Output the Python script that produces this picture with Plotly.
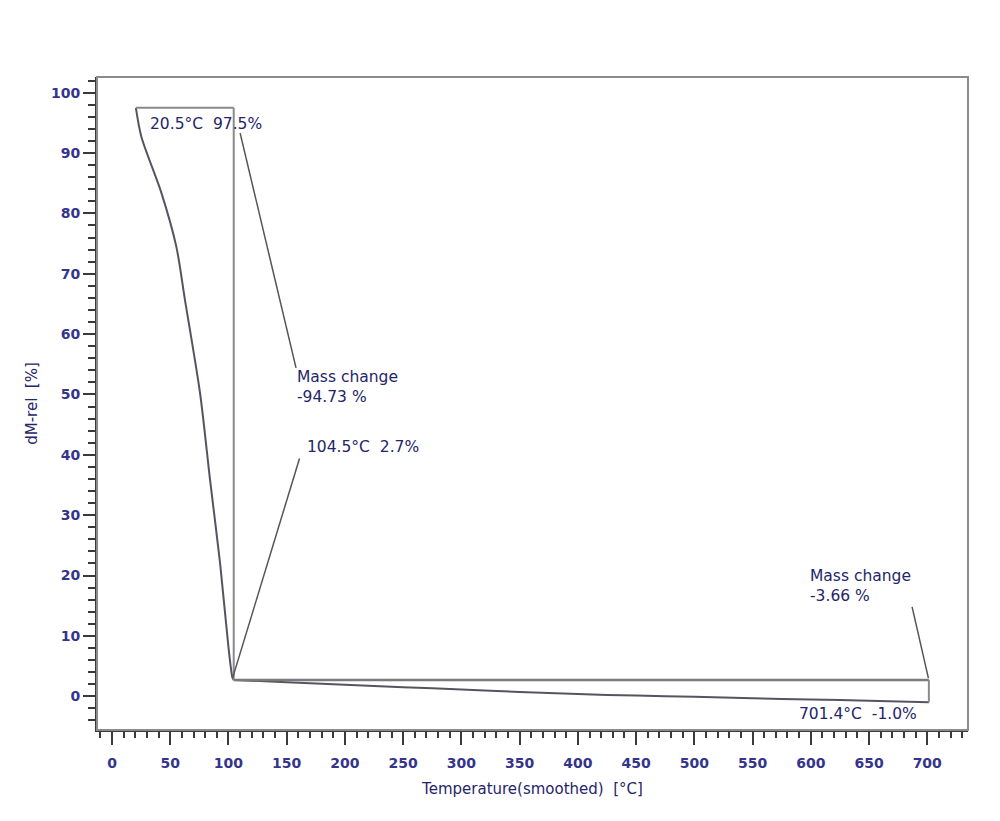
import plotly.graph_objects as go

# ---- data ----
# main mass-loss step (20.5 -> 104.5 °C)
drop_T = [20.5, 25.2, 42.4, 55.2, 62.7, 75.6, 84.2, 92.8, 100.0, 103.4, 104.5]
drop_m = [97.5, 92.7, 83.4, 74.5, 65.6, 50.2, 35.8, 22.0, 8.1, 3.1, 2.7]
# slow tail (104.5 -> 701.4 °C)
tail_T = [104.5, 150, 200, 250, 300, 350, 400, 450, 500, 550, 600, 650, 701.4]
tail_m = [2.7, 2.3, 1.9, 1.5, 1.1, 0.7, 0.35, 0.1, -0.1, -0.35, -0.55, -0.75, -1.0]

step_T = [20.5, 104.5, 701.4]      # evaluation points [°C]
step_m = [97.5, 2.7, -1.0]         # dM-rel at those points [%]
mass_change = [-94.73, -3.66]      # mass change of each step [%]

x_ticks = list(range(0, 701, 50))
y_ticks = list(range(0, 101, 10))

# ---- styles ----
FONT = "DejaVu Sans"
TXT = "#25256a"
TICKC = "#34348c"
LINEC = "#8a8a8a"
CURVE = "#55555f"

fig = go.Figure()
for xs, ys in ((drop_T, drop_m), (tail_T, tail_m)):
    fig.add_trace(go.Scatter(x=xs, y=ys, mode="lines",
                             line=dict(color=CURVE, width=2, shape="spline", smoothing=0.8),
                             showlegend=False, hoverinfo="x+y"))

shapes = []
def seg(x0, y0, x1, y1, color=LINEC, width=2):
    shapes.append(dict(type="line", xref="x", yref="y", x0=x0, y0=y0, x1=x1, y1=y1,
                       line=dict(color=color, width=width)))

T0, T1, T2 = step_T
m0, m1, m2 = step_m
seg(T0, m0, T1, m0)
seg(T1, m0, T1, m1)
seg(T1, m1, T2, m1, color="#7a7a7a", width=2.5)
seg(T2, m1, T2, m2)
# leader lines
seg(110, 93.3, 158, 54.4, color="#555555", width=1.5)
seg(161, 39.4, 103.5, 3.0, color="#555555", width=1.5)
seg(687, 14.8, 701, 3.0, color="#555555", width=1.5)
# plot frame
shapes.append(dict(type="rect", xref="paper", yref="paper", x0=0, y0=0, x1=1, y1=1,
                   line=dict(color="#8c8c8c", width=2), layer="above"))

def label(x, y, text):
    return dict(x=x, y=y, xref="x", yref="y", text=text, showarrow=False,
                xanchor="left", yanchor="middle", align="left",
                font=dict(family=FONT, size=15.5, color=TXT))

annotations = [
    label(31, 94.8, f"{T0}°C  {m0}%"),
    label(157, 51.2, f"Mass change<br>{mass_change[0]:.2f} %"),
    label(166, 41.3, f"{T1}°C  {m1}%"),
    label(598, 18.2, f"Mass change<br>{mass_change[1]:.2f} %"),
    label(588, -3.0, f"{T2}°C  {m2}%"),
]

fig.update_layout(
    width=984, height=805,
    margin=dict(l=89, r=24, t=69, b=83),
    paper_bgcolor="white", plot_bgcolor="white",
    shapes=shapes, annotations=annotations,
    font=dict(family=FONT, color=TXT),
    xaxis=dict(range=[-12.9, 735], tickvals=x_ticks, ticktext=[str(v) for v in x_ticks],
               showgrid=False, zeroline=False, showline=True, linecolor="#3a3a3a", linewidth=2,
               ticks="outside", ticklen=13, tickwidth=2, tickcolor="#3a3a3a",
               ticklabelstandoff=6,
               tickfont=dict(family=FONT, size=14, color=TICKC, weight="bold"),
               minor=dict(dtick=10, tick0=0, ticks="outside", ticklen=6, tickwidth=1.5,
                          tickcolor="#3a3a3a", showgrid=False),
               title=dict(text="Temperature(smoothed)  [°C]", standoff=14,
                          font=dict(family=FONT, size=15, color=TXT)),
               automargin=False),
    yaxis=dict(range=[-5.6, 102.6], tickvals=y_ticks, ticktext=[str(v) for v in y_ticks],
               showgrid=False, zeroline=False, showline=True, linecolor="#3a3a3a", linewidth=2,
               ticks="outside", ticklen=12, tickwidth=2, tickcolor="#3a3a3a",
               tickfont=dict(family=FONT, size=14, color=TICKC, weight="bold"),
               minor=dict(dtick=2, tick0=0, ticks="outside", ticklen=7, tickwidth=1.5,
                          tickcolor="#3a3a3a", showgrid=False),
               title=dict(text="dM-rel  [%]", standoff=10,
                          font=dict(family=FONT, size=15, color=TXT)),
               automargin=False),
)

fig.write_html("out.html")
